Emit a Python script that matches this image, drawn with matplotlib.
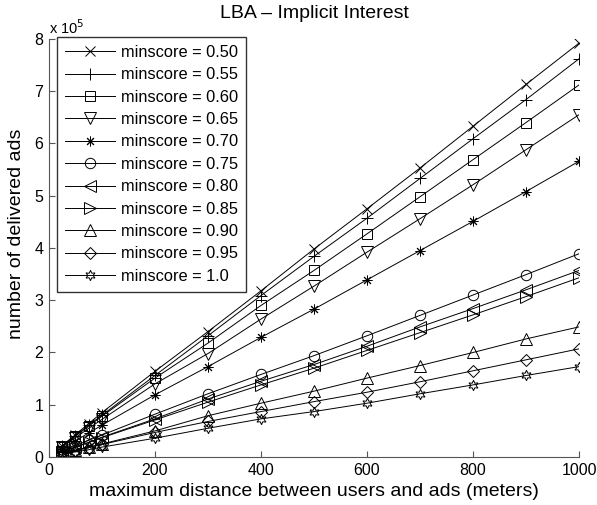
import matplotlib
matplotlib.use("Agg")
import matplotlib.pyplot as plt

plt.rcParams['font.family'] = ['Liberation Sans', 'DejaVu Sans']

distance = [25, 50, 75, 100, 200, 300, 400, 500, 600, 700, 800, 900, 1000]

# delivered ads, in units of 1e5
s050 = [0.22, 0.43, 0.64, 0.85, 1.64, 2.40, 3.18, 3.98, 4.75, 5.53, 6.33, 7.13, 7.92]
s055 = [0.21, 0.41, 0.61, 0.80, 1.56, 2.32, 3.09, 3.84, 4.57, 5.33, 6.09, 6.84, 7.62]
s060 = [0.20, 0.40, 0.59, 0.78, 1.51, 2.18, 2.90, 3.57, 4.27, 4.98, 5.69, 6.40, 7.12]
s065 = [0.19, 0.37, 0.55, 0.72, 1.40, 1.98, 2.64, 3.27, 3.92, 4.56, 5.21, 5.88, 6.55]
s070 = [0.16, 0.31, 0.46, 0.61, 1.19, 1.73, 2.29, 2.83, 3.39, 3.95, 4.51, 5.08, 5.66]
s075 = [0.11, 0.22, 0.32, 0.42, 0.82, 1.21, 1.58, 1.94, 2.32, 2.71, 3.10, 3.49, 3.89]
s080 = [0.10, 0.19, 0.28, 0.38, 0.73, 1.11, 1.45, 1.77, 2.12, 2.49, 2.84, 3.20, 3.57]
s085 = [0.10, 0.19, 0.28, 0.37, 0.71, 1.05, 1.38, 1.70, 2.04, 2.38, 2.72, 3.07, 3.43]
s090 = [0.07, 0.13, 0.19, 0.25, 0.50, 0.79, 1.03, 1.26, 1.51, 1.75, 2.00, 2.26, 2.49]
s095 = [0.06, 0.12, 0.18, 0.24, 0.47, 0.68, 0.87, 1.06, 1.24, 1.44, 1.65, 1.86, 2.07]
s100 = [0.05, 0.10, 0.14, 0.19, 0.36, 0.55, 0.73, 0.87, 1.03, 1.21, 1.38, 1.56, 1.73]

labels = ['minscore = 0.50', 'minscore = 0.55', 'minscore = 0.60', 'minscore = 0.65',
          'minscore = 0.70', 'minscore = 0.75', 'minscore = 0.80', 'minscore = 0.85',
          'minscore = 0.90', 'minscore = 0.95', 'minscore = 1.0']
series = [s050, s055, s060, s065, s070, s075, s080, s085, s090, s095, s100]
markers = ['x', '+', 's', 'v', (8, 2, 0), 'o', '<', '>', '^', 'D', (6, 1, 0)]
msizes = [7, 9, 6.5, 8, 7, 7.5, 8, 8, 8, 6, 7.5]

xticks = [0, 200, 400, 600, 800, 1000]
yticks = [0, 1, 2, 3, 4, 5, 6, 7, 8]

fig = plt.figure(figsize=(5.97, 5.05), dpi=100)
ax = fig.add_axes([0.082, 0.095, 0.888, 0.828])

for y, lab, m, ms in zip(series, labels, markers, msizes):
    ax.plot(distance, y, color='black', linewidth=0.7, marker=m, markersize=ms,
            markerfacecolor='none', markeredgecolor='black', markeredgewidth=0.7,
            label=lab)

ax.set_xlim(0, 1000)
ax.set_ylim(0, 8)
ax.set_xticks(xticks)
ax.set_yticks(yticks)
ax.tick_params(direction='in', length=4, width=0.8, labelsize=11.5, colors='black', pad=4)
for side in ['top', 'right']:
    ax.spines[side].set_visible(False)
for side in ['left', 'bottom']:
    ax.spines[side].set_color('#555555')
    ax.spines[side].set_linewidth(0.8)
ax.tick_params(axis='both', color='#555555')

ax.set_xlabel('maximum distance between users and ads (meters)', fontsize=14, labelpad=4)
ax.set_ylabel('number of delivered ads', fontsize=14)
ax.yaxis.set_label_coords(-0.045, 0.534)
ax.set_title('LBA \u2013 Implicit Interest', fontsize=14, pad=15)
ax.text(0.0, 1.005, 'x 10$^5$', transform=ax.transAxes, fontsize=10.5,
        ha='left', va='bottom')

leg = ax.legend(loc='upper left', bbox_to_anchor=(0.0145, 1.005), borderaxespad=0,
                fontsize=11.8, frameon=True, fancybox=False, edgecolor='black',
                handlelength=3.05, labelspacing=0.45, borderpad=0.5, handletextpad=0.37)
leg.get_frame().set_linewidth(1.0)

fig.savefig('out.png', dpi=100)
